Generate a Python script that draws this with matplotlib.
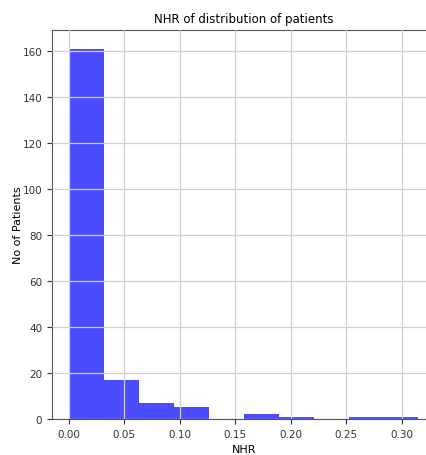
import matplotlib
matplotlib.use("Agg")
import matplotlib.pyplot as plt
import numpy as np

nhr_min = 0.00065
nhr_max = 0.31482
counts = [161, 17, 7, 5, 0, 2, 1, 0, 1, 1]

edges = np.linspace(nhr_min, nhr_max, len(counts) + 1)

fig = plt.figure(figsize=(4.27, 4.56), dpi=100)
ax = fig.add_axes([0.1218, 0.079, 0.899, 0.853])
ax.hist(edges[:-1], bins=edges, weights=counts, color='blue', alpha=0.7)
ax.grid(True, color='#d0d0d0', linewidth=0.9)
ax.set_axisbelow(False)
ax.set_title("NHR of distribution of patients", fontsize=8.5)
ax.set_xlabel("NHR", fontsize=8)
ax.set_ylabel("No of Patients", fontsize=8, labelpad=0)
ax.set_yticks(np.arange(0, 161, 20))
ax.set_xticks(np.arange(0, 0.31, 0.05))
ax.tick_params(labelsize=7.5, colors='#333333')
for s in ax.spines.values():
    s.set_color('#555555')
fig.savefig("out.png", dpi=100)
